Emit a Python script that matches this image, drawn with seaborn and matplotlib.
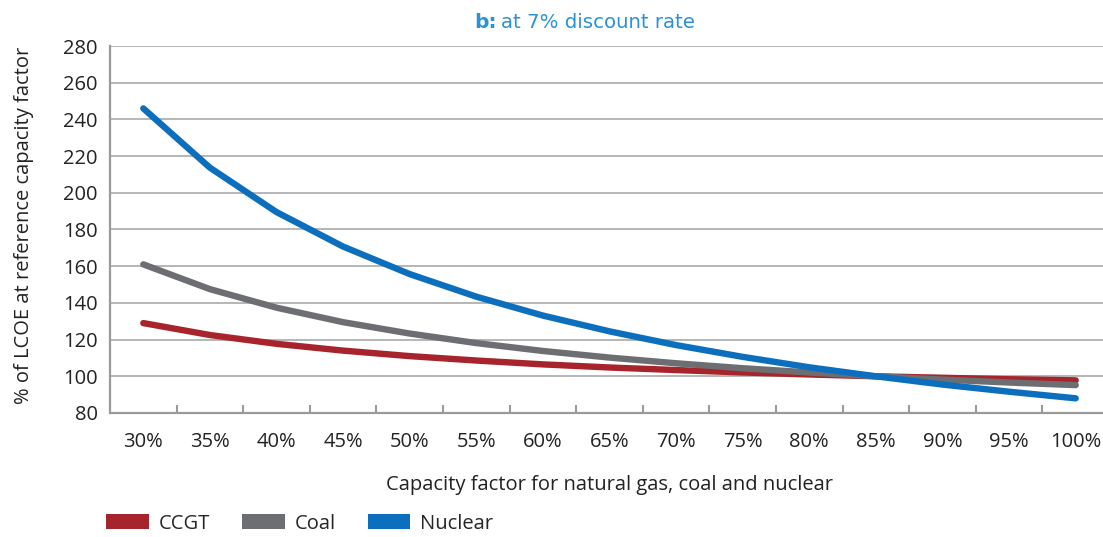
import numpy as np
import pandas as pd
import matplotlib
matplotlib.use("Agg")
import matplotlib.pyplot as plt
from matplotlib.patches import Patch
from matplotlib.ticker import FixedLocator
import seaborn as sns

# ---- data ----
capacity = ["30%", "35%", "40%", "45%", "50%", "55%", "60%", "65%",
            "70%", "75%", "80%", "85%", "90%", "95%", "100%"]
ccgt = [129, 122.5, 117.7, 114, 111, 108.6, 106.5, 104.8, 103.4, 102.1, 101, 100, 99.2, 98.4, 97.8]
coal = [161, 147.5, 137.4, 129.5, 123.3, 118.1, 113.8, 110.2, 107.1, 104.4, 102.1, 100, 98.2, 96.6, 95.2]
nuclear = [246, 213.7, 189.5, 170.7, 155.7, 143.4, 133.1, 124.5, 117.0, 110.6, 104.9, 100, 95.5, 91.6, 88.0]
series_names = ["CCGT", "Coal", "Nuclear"]
yticks = [80, 100, 120, 140, 160, 180, 200, 220, 240, 260, 280]

colors = {"CCGT": "#a8242c", "Coal": "#6d6e71", "Nuclear": "#0b6fbd"}

df = pd.DataFrame({
    "capacity": capacity * 3,
    "value": ccgt + coal + nuclear,
    "series": sum([[s] * len(capacity) for s in series_names], []),
})

sns.set_theme(style="white")
plt.rcParams["font.family"] = ["Open Sans", "DejaVu Sans"]

FS = 14.5
fig = plt.figure(figsize=(11.03, 5.37), dpi=100)
ax = fig.add_axes([110 / 1103, 124 / 537, 999 / 1103, 367 / 537])

sns.lineplot(data=df, x="capacity", y="value", hue="series",
             hue_order=series_names, palette=colors, linewidth=4.6,
             sort=False, legend=False, ax=ax, zorder=3)

ax.set_xlim(-0.5, len(capacity) - 0.5)
ax.set_ylim(80, 280)
ax.set_yticks(yticks)
ax.set_yticklabels([str(v) for v in yticks], fontsize=FS, color="#222222")
ax.tick_params(axis="y", length=0, pad=9)

ax.set_xticks(range(len(capacity)))
ax.set_xticklabels(capacity, fontsize=FS, color="#222222")
ax.tick_params(axis="x", which="major", length=0, pad=14)
ax.xaxis.set_minor_locator(FixedLocator(np.arange(0.5, len(capacity) - 0.5, 1)))
ax.tick_params(axis="x", which="minor", direction="in", length=6, width=1.5,
               color="#9a9a9a", bottom=True)

ax.grid(axis="y", color="#b5b5b5", linewidth=1.4, zorder=0)
ax.grid(axis="x", visible=False)
ax.set_axisbelow(True)
for side in ["top", "right"]:
    ax.spines[side].set_visible(False)
for side in ["left", "bottom"]:
    ax.spines[side].set_color("#9a9a9a")
    ax.spines[side].set_linewidth(1.6)

ax.set_xlabel("Capacity factor for natural gas, coal and nuclear", fontsize=FS,
              color="#222222", labelpad=16)
ax.set_ylabel("% of LCOE at reference capacity factor", fontsize=FS,
              color="#222222")
ax.yaxis.set_label_coords(-76 / 999, 0.51)

# title
fig.text(0.4505, 0.958, "b:", fontsize=14.5, fontweight="bold", color="#2a93d5",
         family="DejaVu Sans", ha="right", va="center")
fig.text(0.4545, 0.958, "at 7% discount rate", fontsize=14.2, color="#2a93d5",
         family="DejaVu Sans", ha="left", va="center")

handles = [Patch(facecolor=colors[s], edgecolor="none", label=s) for s in series_names]
fig.legend(handles=handles, loc="center left", bbox_to_anchor=(0.08, 0.025),
           ncol=3, frameon=False, fontsize=FS, handlelength=2.1, handleheight=0.75,
           columnspacing=1.6, handletextpad=0.5)

fig.savefig("out.png", dpi=100)
